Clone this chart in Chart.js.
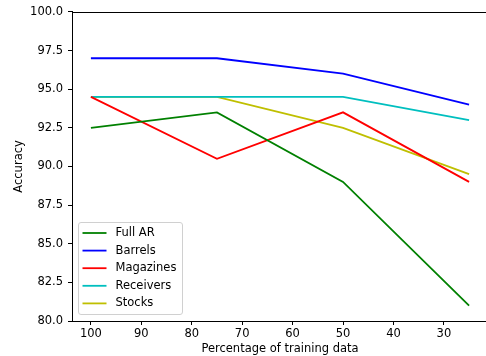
<!DOCTYPE html>
<html>
<head>
<meta charset="utf-8">
<script src="https://cdn.jsdelivr.net/npm/chart.js@4"></script>
<style>
  html, body { margin: 0; padding: 0; background: #fff; overflow: hidden; }
  #wrap { width: 490px; height: 356px; }
</style>
</head>
<body>
<div id="wrap"><canvas id="chart"></canvas></div>
<script>
// data
const trainPct = [100, 75, 50, 25];
const fullAR = [92.5, 93.5, 89.0, 81.0];
const barrels = [97.0, 97.0, 96.0, 94.0];
const magazines = [94.5, 90.5, 93.5, 89.0];
const receivers = [94.5, 94.5, 94.5, 93.0];
const stocks = [94.5, 94.5, 92.5, 89.5];
const xTicks = [100, 90, 80, 70, 60, 50, 40, 30];

const FONT = "'DejaVu Sans', sans-serif";
const FS = 11.5;

const toPoints = (vals) => vals.map((v, i) => ({ x: trainPct[i], y: v }));

const makeSet = (label, vals, color) => ({
    label: label,
    data: toPoints(vals),
    borderColor: color,
    backgroundColor: color,
    borderWidth: 1.8,
    pointRadius: 0,
    tension: 0,
});

// top/right spine
const framePlugin = {
    id: "frame",
    afterDraw(chart) {
        const { ctx, chartArea: a } = chart;
        const top = Math.round(a.top) + 0.5;
        const right = Math.round(a.right) - 0.5;
        ctx.save();
        ctx.strokeStyle = "#000";
        ctx.lineWidth = 1;
        ctx.beginPath();
        ctx.moveTo(a.left, top);
        ctx.lineTo(right, top);
        ctx.lineTo(right, a.bottom);
        ctx.stroke();
        ctx.restore();
    },
};

// matplotlib style legend in lower left
const legendPlugin = {
    id: "boxLegend",
    afterDraw(chart) {
        const { ctx, chartArea: a } = chart;
        const sets = chart.data.datasets;
        const x0 = a.left + 6.5, y1 = a.bottom - 6.5;
        const w = 104, rowH = 17.6, h = sets.length * rowH + 4;
        const y0 = y1 - h;
        ctx.save();
        ctx.fillStyle = "rgba(255,255,255,0.8)";
        ctx.strokeStyle = "#d0d0d0";
        ctx.lineWidth = 1;
        ctx.beginPath();
        ctx.roundRect(x0, y0, w, h, 2.5);
        ctx.fill();
        ctx.stroke();
        ctx.font = FS + "px " + FONT;
        ctx.textBaseline = "middle";
        sets.forEach((ds, i) => {
            const cy = y0 + 10.5 + i * rowH;
            ctx.strokeStyle = ds.borderColor;
            ctx.lineWidth = 1.8;
            ctx.beginPath();
            ctx.moveTo(x0 + 4, cy);
            ctx.lineTo(x0 + 28, cy);
            ctx.stroke();
            ctx.fillStyle = "#000";
            ctx.fillText(ds.label, x0 + 37, cy);
        });
        ctx.restore();
    },
};

new Chart(document.getElementById("chart"), {
    type: "line",
    data: {
        datasets: [
            makeSet("Full AR", fullAR, "#008000"),
            makeSet("Barrels", barrels, "#0000ff"),
            makeSet("Magazines", magazines, "#ff0000"),
            makeSet("Receivers", receivers, "#00bfbf"),
            makeSet("Stocks", stocks, "#bfbf00"),
        ],
    },
    options: {
        responsive: true,
        maintainAspectRatio: false,
        animation: false,
        layout: { padding: { top: 11, right: 2, bottom: 0, left: 0 } },
        plugins: { legend: { display: false }, tooltip: { enabled: false } },
        scales: {
            x: {
                type: "linear",
                reverse: true,
                min: 21.25,
                max: 103.75,
                afterBuildTicks: (scale) => {
                    scale.ticks = xTicks.map((v) => ({ value: v }));
                },
                afterFit: (scale) => { scale.height = 35; },
                ticks: {
                    color: "#000",
                    font: { family: FONT, size: FS },
                    padding: 2,
                    maxRotation: 0,
                    callback: (v) => String(v),
                },
                grid: { drawOnChartArea: false, drawTicks: true, tickLength: 4, color: "#000" },
                border: { display: true, color: "#000" },
                title: {
                    display: true,
                    text: "Percentage of training data",
                    color: "#000",
                    font: { family: FONT, size: FS },
                    padding: { top: 0, bottom: 0 },
                },
            },
            y: {
                min: 80,
                max: 100,
                afterFit: (scale) => { scale.width = 72; },
                ticks: {
                    stepSize: 2.5,
                    color: "#000",
                    font: { family: FONT, size: FS },
                    padding: 5,
                    callback: (v) => v.toFixed(1),
                },
                grid: { drawOnChartArea: false, drawTicks: true, tickLength: 4, color: "#000" },
                border: { display: true, color: "#000" },
                title: {
                    display: true,
                    text: "Accuracy",
                    color: "#000",
                    font: { family: FONT, size: FS },
                    padding: { top: 12, bottom: 0 },
                },
            },
        },
    },
    plugins: [framePlugin, legendPlugin],
});
</script>
</body>
</html>
